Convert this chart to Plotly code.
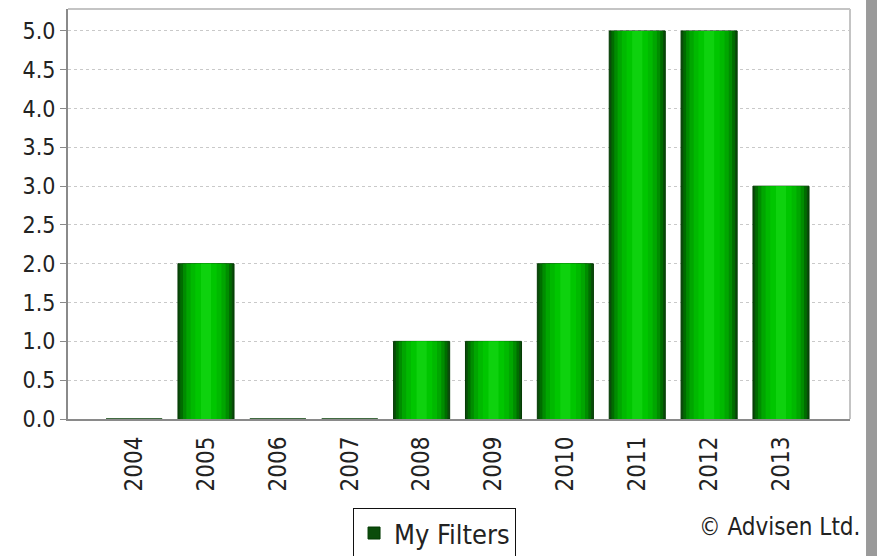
import plotly.graph_objects as go

years = ["2004", "2005", "2006", "2007", "2008", "2009", "2010", "2011", "2012", "2013"]
counts = [0, 2, 0, 0, 1, 1, 2, 5, 5, 3]
series_name = "My Filters"

FONT = "DejaVu Sans Condensed, DejaVu Sans, sans-serif"
BAR_W = 0.78
# layered shading to mimic the cylindrical gradient
layers = [
    (1.00, "#0a4c0a"),
    (0.92, "#006c00"),
    (0.82, "#008c00"),
    (0.70, "#00a600"),
    (0.55, "#00b900"),
    (0.38, "#00c600"),
    (0.18, "#0ed20e"),
]

fig = go.Figure()
for i, (frac, col) in enumerate(layers):
    fig.add_trace(go.Bar(
        x=years, y=counts,
        width=BAR_W * frac,
        marker=dict(color=col,
                    line=dict(color="#023a02" if i == 0 else col, width=1 if i == 0 else 0)),
        name=series_name,
        showlegend=(i == 0),
        hoverinfo="skip" if i else None,
    ))

fig.update_layout(
    width=877, height=556,
    barmode="overlay",
    margin=dict(l=68, r=27, t=9, b=137, autoexpand=False),
    paper_bgcolor="white", plot_bgcolor="white",
    font=dict(family=FONT, size=23, color="#222222"),
    showlegend=True,
    legend=dict(x=0.3645, y=-0.217, xanchor="left", yanchor="top",
                bordercolor="#111111", borderwidth=1, bgcolor="white",
                font=dict(family=FONT, size=27, color="#222222"),
                itemwidth=30),
    xaxis=dict(type="category", range=[-0.92, 9.96], tickangle=-90,
               showgrid=False, showline=True, linecolor="#8a8a8a", linewidth=2,
               ticks="", ticklabelstandoff=6, automargin=False,
               tickfont=dict(family=FONT, size=24, color="#222222")),
    yaxis=dict(range=[0, 5.283], dtick=0.5, tickformat=".1f",
               showgrid=True, gridcolor="#c9c9c9", griddash="dot", gridwidth=1,
               showline=True, linecolor="#8a8a8a", linewidth=2,
               ticks="outside", ticklen=6, tickcolor="#8a8a8a",
               zeroline=False, automargin=False,
               tickfont=dict(family=FONT, size=23, color="#222222")),
    shapes=[
        dict(type="line", xref="paper", yref="paper", x0=0, x1=1, y0=1, y1=1,
             line=dict(color="#c4c4c4", width=2)),
        dict(type="line", xref="paper", yref="paper", x0=1, x1=1, y0=0, y1=1,
             line=dict(color="#c4c4c4", width=2)),
        dict(type="rect", xref="paper", yref="paper", x0=1.0205, x1=1.06, y0=-0.5, y1=1.1,
             fillcolor="#9a9a9a", line=dict(width=0), layer="above"),
    ],
    annotations=[
        dict(text="© Advisen Ltd.", xref="paper", yref="paper", x=1.0153, y=-0.263,
             xanchor="right", yanchor="middle", showarrow=False,
             font=dict(family=FONT, size=24, color="#222222")),
    ],
)

fig.write_html(
    "out.html",
    config={"displayModeBar": False},
    post_script="document.body.style.margin='0';document.body.style.overflow='hidden';",
)
